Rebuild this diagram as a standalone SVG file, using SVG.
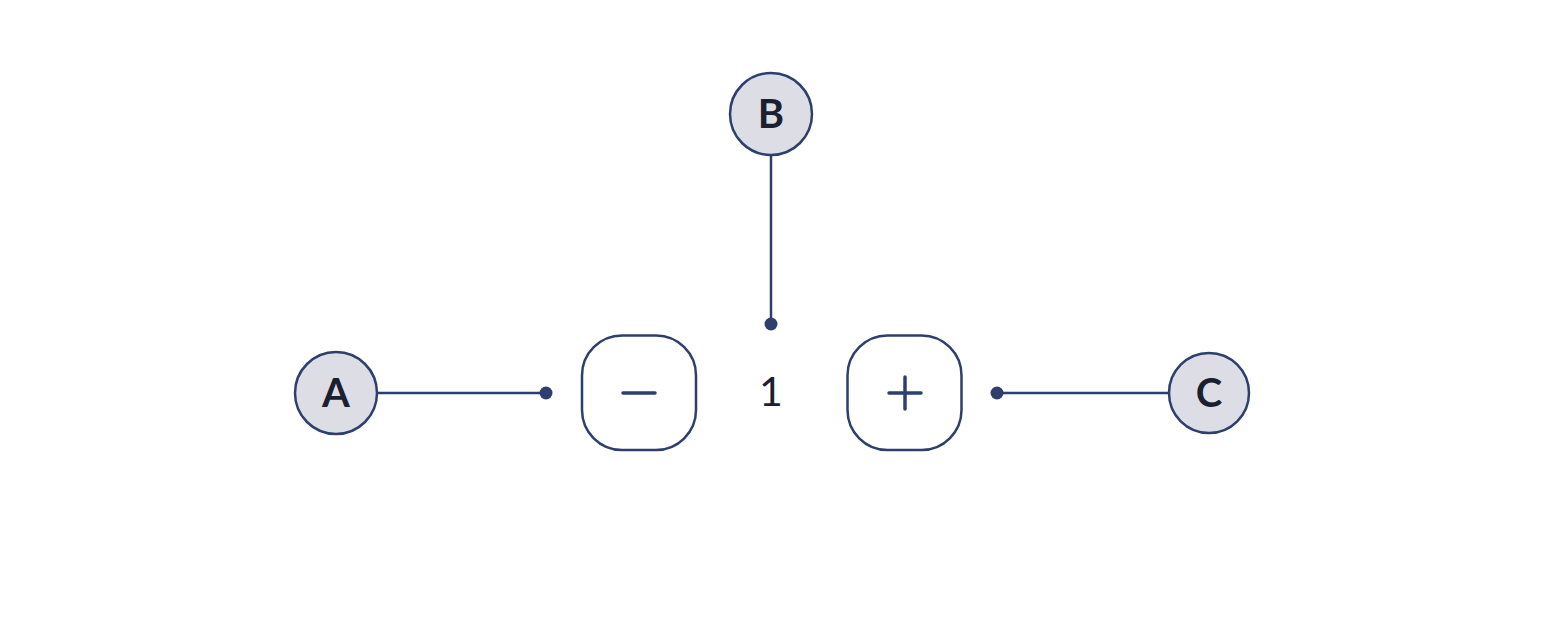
<svg xmlns="http://www.w3.org/2000/svg" width="1554" height="628" viewBox="0 0 1554 628">
<style>
.node{fill:#dcdde5;stroke:#2e3f6e;stroke-width:2.5}
.lbl{font-family:Lato,"Liberation Sans",sans-serif;font-weight:700;font-size:40px;fill:#1b2030;text-anchor:middle}
.btn{fill:#fff;stroke:#2e3f6e;stroke-width:2.5}
.sym{stroke:#2e3f6e;stroke-width:3.5;stroke-linecap:round}
.edge{stroke:#2e3f6e;stroke-width:2.5;fill:none}
.dot{fill:#2e3f6e}
.val{font-family:Lato,"Liberation Sans",sans-serif;font-size:41px;fill:#1b2030;text-anchor:middle}
</style>
<rect width="1554" height="628" fill="#fff"/>
<g id="connectors">
<line class="edge" x1="377" y1="393" x2="546" y2="393"/>
<circle class="dot" cx="546" cy="393" r="6.5"/>
<line class="edge" x1="771" y1="155" x2="771" y2="324"/>
<circle class="dot" cx="771" cy="324" r="6.5"/>
<line class="edge" x1="997" y1="393" x2="1169" y2="393"/>
<circle class="dot" cx="997" cy="393" r="6.5"/>
</g>
<g id="nodeA"><circle class="node" cx="336" cy="393" r="41"/><text class="lbl" x="336" y="407">A</text></g>
<g id="nodeB"><circle class="node" cx="771" cy="114" r="41"/><text class="lbl" x="771" y="128">B</text></g>
<g id="nodeC"><circle class="node" cx="1209" cy="393" r="40"/><text class="lbl" x="1209" y="407">C</text></g>
<g id="minus"><rect class="btn" x="582" y="335.5" width="114" height="114.5" rx="40"/><line class="sym" x1="623" y1="393" x2="655" y2="393"/></g>
<g id="value"><text class="val" x="771" y="406">1</text></g>
<g id="plus"><rect class="btn" x="847.5" y="335.5" width="114" height="114.5" rx="40"/><line class="sym" x1="889" y1="393" x2="921" y2="393"/><line class="sym" x1="905" y1="377" x2="905" y2="409"/></g>
</svg>
